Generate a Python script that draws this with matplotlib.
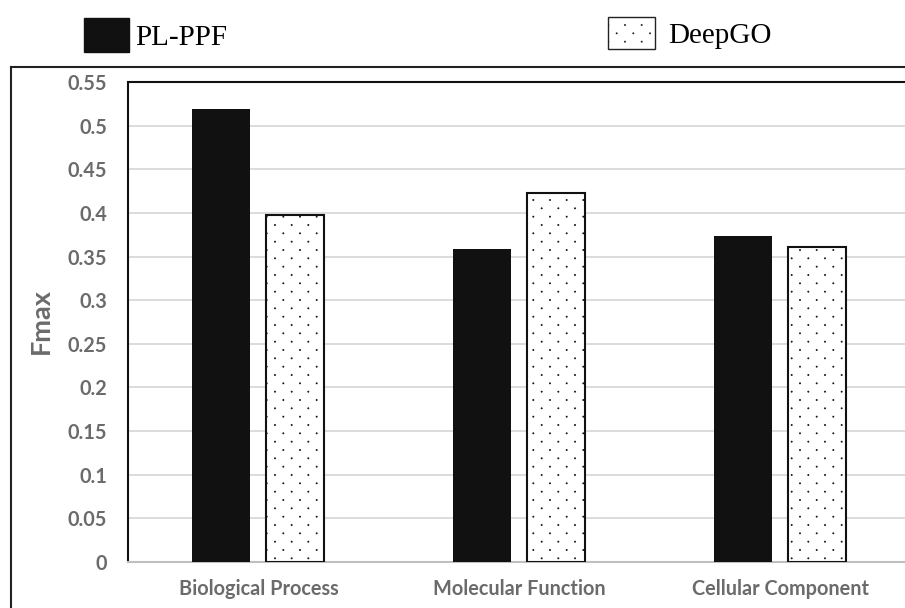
import matplotlib.pyplot as plt
import matplotlib.hatch as mhatch
import numpy as np
from matplotlib.lines import Line2D
from matplotlib.patches import Patch
from matplotlib.path import Path

categorias = ['Biological Process', 'Molecular Function', 'Cellular Component']
pl_ppf = [0.519, 0.359, 0.374]
deepgo = [0.398, 0.423, 0.361]
yticks = [0, 0.05, 0.1, 0.15, 0.2, 0.25, 0.3, 0.35, 0.4, 0.45, 0.5, 0.55]
ytick_labels = ['0', '0.05', '0.1', '0.15', '0.2', '0.25', '0.3', '0.35', '0.4', '0.45', '0.5', '0.55']


# trama de puntos finos, filas el doble de juntas que las columnas y alternadas
class PuntosFinos(mhatch.HatchPatternBase):
    def __init__(self, hatch, density):
        n = hatch.count('.')
        self.cols = density * n
        self.filas = 2 * density * n
        circulo = Path.unit_circle()
        self.verts = circulo.vertices * 0.006
        self.cods = circulo.codes
        self.num_vertices = (self.filas + 1) * (self.cols + 1) * len(self.verts) if n else 0

    def set_vertices_and_codes(self, vertices, codes):
        partes = []
        for f in range(self.filas + 1):
            desfase = 0.5 / self.cols if f % 2 else 0
            for c in range(self.cols + 1):
                partes.append(self.verts + [c / self.cols + desfase, f / self.filas])
        vertices[:] = np.concatenate(partes)
        codes[:] = np.tile(self.cods, (self.filas + 1) * (self.cols + 1))


mhatch._hatch_types[mhatch._hatch_types.index(mhatch.SmallFilledCircles)] = PuntosFinos

gris = '#6b6b6b'
plt.rcParams['hatch.linewidth'] = 0.5
plt.rcParams['hatch.color'] = '#222222'

fig = plt.figure(figsize=(9.05, 6.08), dpi=100)
ax = fig.add_axes([128 / 905, 1 - 562 / 608, 783 / 905, 480 / 608])

x = np.arange(len(categorias))
ancho = 0.222
ax.bar(x - 0.142, pl_ppf, ancho, color='#111111', zorder=3)
ax.bar(x + 0.140, deepgo, ancho, color='white', edgecolor='#111111',
       linewidth=1.5, hatch='.', zorder=3)

ax.set_xlim(-0.5, 2.5)
ax.set_ylim(0, 0.55)
ax.set_yticks(yticks)
ax.set_yticklabels(ytick_labels)
ax.set_xticks(x)
ax.set_xticklabels(categorias)
ax.tick_params(length=0, labelsize=14.3, labelcolor=gris)
ax.tick_params(axis='y', pad=15)
ax.tick_params(axis='x', pad=12)
for t in ax.get_xticklabels() + ax.get_yticklabels():
    t.set_fontfamily('Lato')
    t.set_fontweight('bold')

ax.grid(axis='y', color='#d9d9d9', linewidth=1.3, zorder=0)
for lado in ['left', 'top']:
    ax.spines[lado].set_color('#111111')
    ax.spines[lado].set_linewidth(1.5)
ax.spines['right'].set_visible(False)
ax.spines['bottom'].set_color('#bfbfbf')
ax.spines['bottom'].set_linewidth(1.5)

fig.text(41 / 905, 1 - 321 / 608, 'Fmax', rotation=90, ha='center', va='center',
         fontsize=19.5, fontweight='bold', color=gris, family='Lato')

# marco exterior del gráfico
fig.add_artist(Line2D([10.5 / 905, 10.5 / 905], [0, 1 - 67 / 608], color='#222222', linewidth=1.5))
fig.add_artist(Line2D([10.5 / 905, 1], [1 - 67 / 608, 1 - 67 / 608], color='#222222', linewidth=1.5))

# leyenda arriba
fuente = {'family': 'Liberation Serif', 'size': 21}
h1 = Patch(facecolor='#111111', edgecolor='#111111')
h2 = Patch(facecolor='white', edgecolor='#222222', hatch='.', linewidth=1.0)
leg1 = fig.legend([h1], ['PL-PPF'], loc='center left', bbox_to_anchor=(84 / 905, 1 - 35 / 608),
                  frameon=False, prop=fuente, borderpad=0, borderaxespad=0,
                  handlelength=1.54, handleheight=1.37, handletextpad=0.2)
fig.legend([h2], ['DeepGO'], loc='center left', bbox_to_anchor=(608 / 905, 1 - 33 / 608),
           frameon=False, prop=fuente, borderpad=0, borderaxespad=0,
           handlelength=1.6, handleheight=1.34, handletextpad=0.45)

fig.savefig('out.png', dpi=100)
